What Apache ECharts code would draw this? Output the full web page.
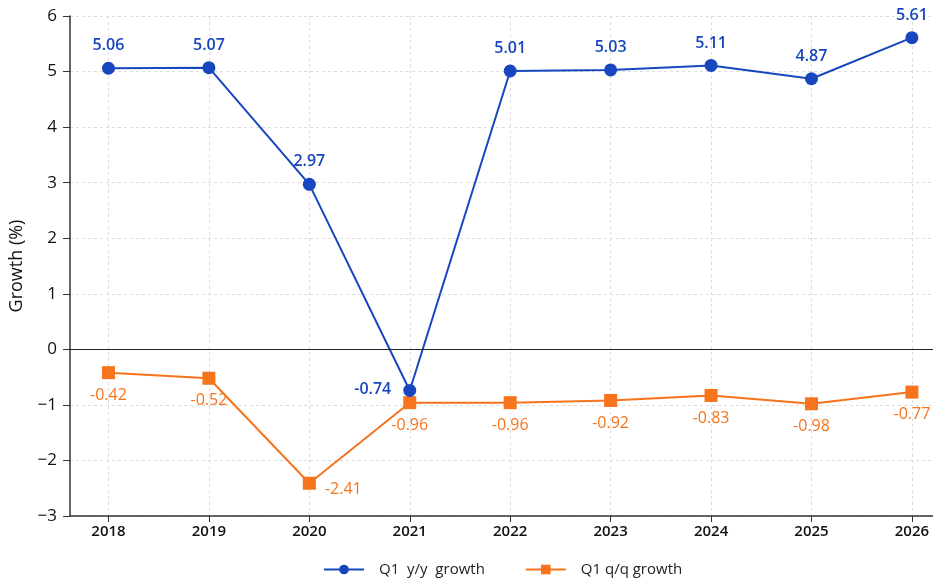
<!DOCTYPE html>
<html>
<head>
<meta charset="utf-8">
<script src="https://cdn.jsdelivr.net/npm/echarts@6/dist/echarts.min.js"></script>
<style>
  html, body { margin: 0; padding: 0; background: #ffffff; }
  #chart { width: 933px; height: 578px; }
</style>
</head>
<body>
<div id="chart"></div>
<script>
// Q1 growth figures by year
const years = [2018, 2019, 2020, 2021, 2022, 2023, 2024, 2025, 2026];
const yoyGrowth = [5.06, 5.07, 2.97, -0.74, 5.01, 5.03, 5.11, 4.87, 5.61];
const qoqGrowth = [-0.42, -0.52, -2.41, -0.96, -0.96, -0.92, -0.83, -0.98, -0.77];
const yTicks = [-3, -2, -1, 0, 1, 2, 3, 4, 5, 6];

const BLUE = '#1746bf';
const ORANGE = '#f7731c';
const FONT = 'Open Sans';

const chart = echarts.init(document.getElementById('chart'), null, { renderer: 'canvas' });

const minus = v => String(v).replace('-', '\u2212');

chart.setOption({
  animation: false,
  textStyle: { fontFamily: FONT },
  grid: { left: 68, right: 0, top: 16, bottom: 62, containLabel: false },
  legend: {
    bottom: -4,
    left: 318,
    itemWidth: 40,
    itemHeight: 12,
    itemGap: 40,
    textStyle: { fontSize: 15, color: '#222', fontFamily: FONT, padding: [0, 0, 0, 10] },
    data: ['Q1  y/y  growth', 'Q1 q/q growth']
  },
  xAxis: {
    type: 'value',
    min: 2017.617,
    max: 2026.21,
    axisLine: { show: true, onZero: false, lineStyle: { color: '#333', width: 1.5 } },
    axisTick: { show: true, customValues: years, length: 6, lineStyle: { color: '#333' } },
    axisLabel: {
      customValues: years,
      color: '#111',
      fontSize: 15,
      fontWeight: 600,
      margin: 8,
      fontFamily: FONT,
      formatter: v => String(v)
    },
    splitLine: { show: true, lineStyle: { color: '#dcdcdc', type: [3, 3], width: 1 } }
  },
  yAxis: {
    type: 'value',
    min: -3,
    max: 6,
    interval: 1,
    name: 'Growth (%)',
    nameLocation: 'middle',
    nameGap: 44,
    nameTextStyle: { fontSize: 18, color: '#111', fontFamily: FONT },
    axisLine: { show: true, lineStyle: { color: '#333', width: 1.5 } },
    axisTick: { show: true, length: 7, lineStyle: { color: '#333' } },
    axisLabel: {
      customValues: yTicks,
      color: '#111',
      fontSize: 17,
      fontWeight: 500,
      margin: 13,
      fontFamily: FONT,
      formatter: v => minus(v)
    },
    splitLine: { show: true, lineStyle: { color: '#dcdcdc', type: [3, 3], width: 1 } }
  },
  series: [
    {
      name: 'Q1  y/y  growth',
      type: 'line',
      data: years.map((y, i) => [y, yoyGrowth[i]]),
      symbol: 'circle',
      symbolSize: 13,
      lineStyle: { color: BLUE, width: 2 },
      itemStyle: { color: BLUE },
      label: {
        show: true,
        position: 'top',
        distance: 8,
        color: BLUE,
        fontSize: 16,
        fontWeight: 600,
        fontFamily: FONT,
        formatter: p => p.value[1].toFixed(2)
      },
      labelLayout: p => (p.dataIndex === 3 ? { dx: -37, dy: 21 } : {}),
      markLine: {
        silent: true,
        symbol: 'none',
        label: { show: false },
        lineStyle: { color: '#222', type: 'solid', width: 1.2 },
        data: [{ yAxis: 0 }]
      },
      z: 3
    },
    {
      name: 'Q1 q/q growth',
      type: 'line',
      data: years.map((y, i) => [y, qoqGrowth[i]]),
      symbol: 'rect',
      symbolSize: 13,
      lineStyle: { color: ORANGE, width: 2 },
      itemStyle: { color: ORANGE },
      label: {
        show: true,
        position: 'bottom',
        distance: 8,
        color: ORANGE,
        fontSize: 16,
        fontWeight: 500,
        fontFamily: FONT,
        formatter: p => p.value[1].toFixed(2)
      },
      labelLayout: p => (p.dataIndex === 2 ? { dx: 34, dy: -16 } : {}),
      z: 2
    }
  ]
});
</script>
</body>
</html>
